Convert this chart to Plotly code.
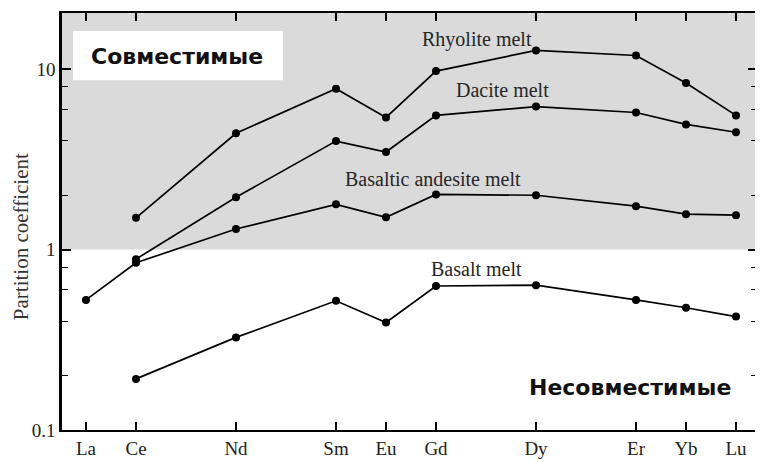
import plotly.graph_objects as go

elements = ["La", "Ce", "Nd", "Sm", "Eu", "Gd", "Dy", "Er", "Yb", "Lu"]
elem_pos = [57, 58, 60, 62, 63, 64, 66, 68, 69, 70]

rhyolite = [None, 1.50, 4.41, 7.78, 5.40, 9.75, 12.7, 11.9, 8.38, 5.54]
dacite = [None, 0.885, 1.95, 3.99, 3.47, 5.54, 6.2, 5.75, 4.94, 4.47]
bas_andesite = [0.526, 0.845, 1.30, 1.78, 1.51, 2.02, 2.0, 1.74, 1.57, 1.55]
basalt = [None, 0.192, 0.326, 0.52, 0.394, 0.628, 0.635, 0.526, 0.476, 0.425]

series = [("Rhyolite melt", rhyolite), ("Dacite melt", dacite),
          ("Basaltic andesite melt", bas_andesite), ("Basalt melt", basalt)]

y_major = [0.1, 1, 10]
y_minor = [0.2, 0.4, 0.6, 0.8, 2, 4, 6, 8]

fig = go.Figure()
for name, vals in series:
    xs = [p for p, v in zip(elem_pos, vals) if v is not None]
    ys = [v for v in vals if v is not None]
    fig.add_trace(go.Scatter(x=xs, y=ys, mode="lines+markers", name=name,
                             line=dict(color="black", width=1.7),
                             marker=dict(color="black", size=8),
                             showlegend=False))

serif = "Liberation Serif"

fig.add_shape(type="rect", xref="paper", yref="y", x0=0, x1=1, y0=1, y1=10 ** 1.311,
              fillcolor="#dadada", line=dict(width=0), layer="below")
fig.add_shape(type="rect", xref="paper", yref="paper", x0=0.016, x1=0.318, y0=0.839, y1=0.957,
              fillcolor="white", line=dict(width=0), layer="below")

labels = [("Rhyolite melt", 64.82, 1.164), ("Dacite melt", 65.32, 0.885),
          ("Basaltic andesite melt", 63.93, 0.393), ("Basalt melt", 64.80, -0.109)]
for t, x, y in labels:
    fig.add_annotation(text=t, x=x, y=y, xref="x", yref="y", showarrow=False,
                       xanchor="center", yanchor="middle",
                       font=dict(family=serif, size=20, color="#262626"))

fig.add_annotation(text="<b>Совместимые</b>", x=0.166, y=0.896, xref="paper", yref="paper",
                   xanchor="center", yanchor="middle", showarrow=False,
                   font=dict(family="DejaVu Sans", size=22, color="#111"))
fig.add_annotation(text="<b>Несовместимые</b>", x=0.817, y=0.102, xref="paper", yref="paper",
                   xanchor="center", yanchor="middle", showarrow=False,
                   font=dict(family="DejaVu Sans", size=22, color="#111"))
fig.add_annotation(text="Partition coefficient", x=-0.0587, y=0.463, xref="paper", yref="paper",
                   xanchor="center", yanchor="middle",
                   textangle=-90, showarrow=False, font=dict(family=serif, size=21, color="#333"))

fig.update_xaxes(range=[56.52, 70.42], tickmode="array", tickvals=elem_pos, ticktext=elements,
                 ticks="inside", ticklen=8, tickwidth=1.5, tickcolor="black",
                 showline=True, linecolor="black", linewidth=2, mirror="ticks",
                 showgrid=False, zeroline=False,
                 tickfont=dict(family=serif, size=19, color="#222"))
fig.update_yaxes(type="log", range=[-1, 1.311], tickmode="array", tickvals=y_major,
                 ticktext=["0.1", "1", "10"],
                 ticks="inside", ticklen=9, tickwidth=1.5, tickcolor="black",
                 minor=dict(tickmode="array", tickvals=y_minor, ticks="inside", ticklen=6,
                            tickwidth=1.2, tickcolor="black", showgrid=False),
                 showline=True, linecolor="black", linewidth=2.5, mirror="ticks",
                 showgrid=False, zeroline=False,
                 tickfont=dict(family=serif, size=19, color="#222"))

fig.update_layout(width=755, height=454, margin=dict(l=54, r=3, t=5, b=26),
                  plot_bgcolor="white", paper_bgcolor="white")

fig.write_html("out.html")
